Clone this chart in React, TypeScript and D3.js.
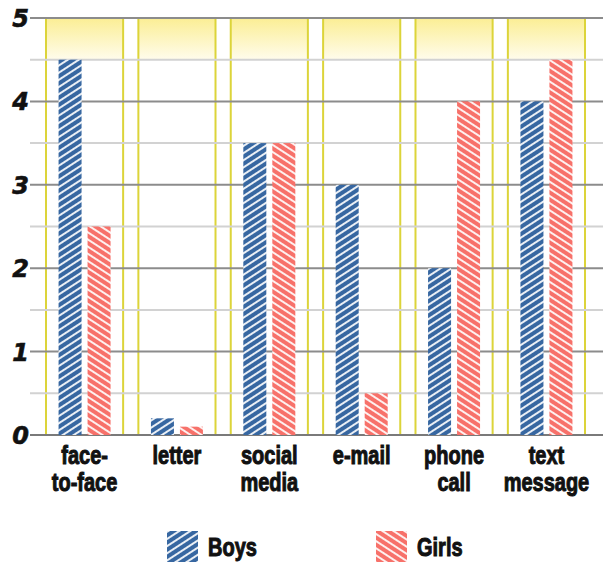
import React, { useEffect, useRef } from 'react';
import * as d3 from 'd3';

const categories = ['face-\nto-face', 'letter', 'social\nmedia', 'e-mail', 'phone\ncall', 'text\nmessage'];
const boys = [4.5, 0.2, 3.5, 3, 2, 4];
const girls = [2.5, 0.1, 3.5, 0.5, 4, 4.5];
const yTicks = [0, 1, 2, 3, 4, 5];
const seriesNames = ['Boys', 'Girls'];

const BLUE = '#3767a1';
const PINK = '#f7716a';
const LABEL_FONT = '"Liberation Sans", Arial, sans-serif';
const SQUEEZE = 0.8;

const App = () => {
  const ref = useRef<SVGSVGElement>(null);

  useEffect(() => {
    const svg = d3.select(ref.current);
    svg.selectAll('*').remove();

    const top = 18;
    const bottom = 435;

    const x = d3.scaleBand<number>()
      .domain(d3.range(categories.length))
      .range([46, 585])
      .paddingInner(0.165)
      .paddingOuter(0);

    const y = d3.scaleLinear().domain([0, 5]).range([bottom, top]);

    const defs = svg.append('defs');
    const grad = defs.append('linearGradient').attr('id', 'panelGrad')
      .attr('x1', 0).attr('y1', 0).attr('x2', 0).attr('y2', 1);
    grad.append('stop').attr('offset', '0%').attr('stop-color', '#fbee94');
    grad.append('stop').attr('offset', '100%').attr('stop-color', '#fffcec');

    const hatch = (id: string, color: string, dir: number) => {
      const p = defs.append('pattern').attr('id', id)
        .attr('patternUnits', 'userSpaceOnUse')
        .attr('width', 6).attr('height', 6)
        .attr('patternTransform', `rotate(${dir})`);
      p.append('rect').attr('width', 6).attr('height', 6).attr('fill', color);
      p.append('line').attr('x1', 0).attr('y1', 3).attr('x2', 6).attr('y2', 3)
        .attr('stroke', '#fff').attr('stroke-width', 1.8);
    };
    hatch('hatchBlue', BLUE, -33);
    hatch('hatchPink', PINK, 33);

    // panels: top yellow part
    const panels = svg.append('g');
    panels.selectAll('rect.top').data(d3.range(categories.length)).enter()
      .append('rect')
      .attr('x', d => x(d)!)
      .attr('y', y(5))
      .attr('width', x.bandwidth())
      .attr('height', y(4.5) - y(5))
      .attr('fill', 'url(#panelGrad)');

    // half gridlines
    svg.append('g').selectAll('line').data(d3.range(0.5, 5, 1)).enter()
      .append('line')
      .attr('x1', 30).attr('x2', 603)
      .attr('y1', d => y(d)).attr('y2', d => y(d))
      .attr('stroke', '#d2d2d2').attr('stroke-width', 2);

    panels.selectAll('rect.frame').data(d3.range(categories.length)).enter()
      .append('rect')
      .attr('x', d => x(d)!)
      .attr('y', y(5))
      .attr('width', x.bandwidth())
      .attr('height', y(0) - y(5))
      .attr('fill', 'none')
      .attr('stroke', '#dcd43a')
      .attr('stroke-width', 2);

    svg.append('g').selectAll('line').data(yTicks).enter()
      .append('line')
      .attr('x1', 30).attr('x2', 603)
      .attr('y1', d => y(d)).attr('y2', d => y(d))
      .attr('stroke', d => (d === 0 ? '#7a7a7a' : '#8c8c8c'))
      .attr('stroke-width', 2);

    // bars
    const barW = 23;
    const gap = 6;
    const bars = svg.append('g');
    [boys, girls].forEach((vals, s) => {
      bars.selectAll(`rect.s${s}`).data(vals).enter()
        .append('rect')
        .attr('x', (_, i) => x(i)! + x.bandwidth() / 2 - barW - gap / 2 + s * (barW + gap))
        .attr('y', d => y(d))
        .attr('width', barW)
        .attr('height', d => y(0) - y(d))
        .attr('fill', s === 0 ? 'url(#hatchBlue)' : 'url(#hatchPink)');
    });

    // y labels
    svg.append('g').selectAll('text').data(yTicks).enter()
      .append('text')
      .attr('x', 29)
      .attr('y', d => y(d) + 9)
      .attr('text-anchor', 'end')
      .attr('font-family', '"DejaVu Sans", sans-serif')
      .attr('font-weight', 'bold')
      .attr('font-style', 'italic')
      .attr('font-size', 24)
      .attr('fill', '#111')
      .attr('stroke', '#111')
      .attr('stroke-width', 0.6)
      .text(d => d);

    // x labels
    const xl = svg.append('g');
    categories.forEach((c, i) => {
      const g = xl.append('g')
        .attr('transform', `translate(${x(i)! + x.bandwidth() / 2},464) scale(${SQUEEZE},1)`);
      const t = g.append('text')
        .attr('text-anchor', 'middle')
        .attr('font-family', LABEL_FONT)
        .attr('font-weight', 'bold')
        .attr('font-size', 25)
        .attr('fill', '#111')
        .attr('stroke', '#111')
        .attr('stroke-width', 1);
      c.split('\n').forEach((line, j) => {
        t.append('tspan').attr('x', 0).attr('y', j * 27).text(line);
      });
    });

    // legend
    const lg = svg.append('g');
    const legendX = [167, 376];
    seriesNames.forEach((n, s) => {
      lg.append('rect')
        .attr('x', legendX[s]).attr('y', 531)
        .attr('width', 31).attr('height', 31)
        .attr('fill', s === 0 ? 'url(#hatchBlue)' : 'url(#hatchPink)');
      lg.append('g')
        .attr('transform', `translate(${legendX[s] + 41},556) scale(${SQUEEZE},1)`)
        .append('text')
        .attr('font-family', LABEL_FONT)
        .attr('font-weight', 'bold')
        .attr('font-size', 25)
        .attr('fill', '#111')
        .attr('stroke', '#111')
        .attr('stroke-width', 1)
        .text(n);
    });
  }, []);

  return (
    <svg ref={ref} width={609} height={562}
      style={{ position: 'absolute', left: 0, top: 0, background: '#fff' }} />
  );
};

export default App;
